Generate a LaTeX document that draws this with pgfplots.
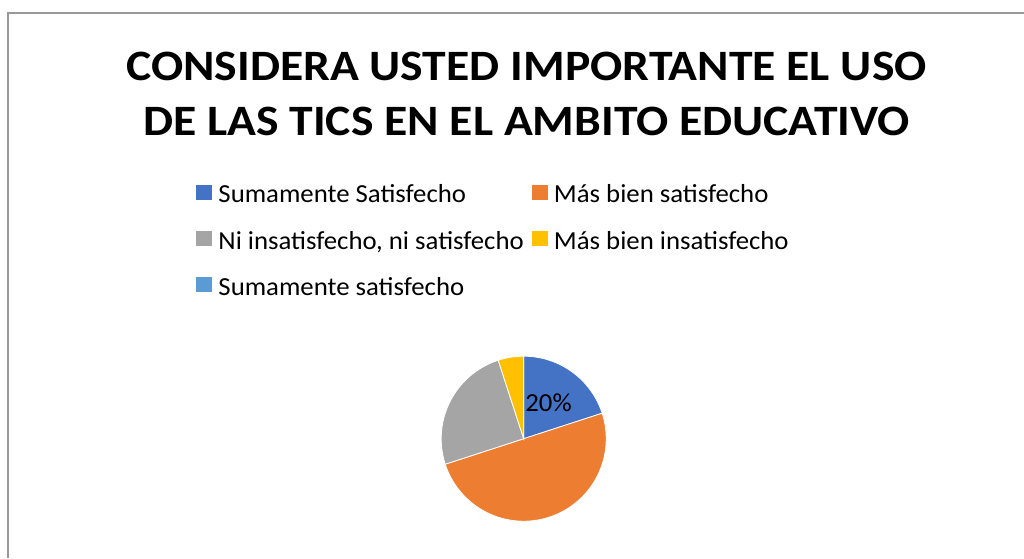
\documentclass[border=0pt]{standalone}
\usepackage{pgfplots}
\usepackage{pgfplotstable}
\pgfplotsset{compat=1.18}
\usepackage{fontspec}
\setmainfont[FakeStretch=1.03]{Carlito}
\newfontfamily\titlefont[FakeStretch=1.10]{Carlito}
\definecolor{c1}{HTML}{4472C4}
\definecolor{c2}{HTML}{ED7D31}
\definecolor{c3}{HTML}{A5A5A5}
\definecolor{c4}{HTML}{FFC000}
\definecolor{c5}{HTML}{5B9BD5}
\definecolor{frame}{HTML}{999999}
\pgfplotstableread{
idx value
0 20
1 50
2 25
3 5
4 0
}\piedata
\begin{document}%
\begin{tikzpicture}
\pgfplotstablegetelem{0}{value}\of\piedata\pgfmathsetmacro{\vA}{\pgfplotsretval}
\pgfplotstablegetelem{1}{value}\of\piedata\pgfmathsetmacro{\vB}{\pgfplotsretval}
\pgfplotstablegetelem{2}{value}\of\piedata\pgfmathsetmacro{\vC}{\pgfplotsretval}
\pgfplotstablegetelem{3}{value}\of\piedata\pgfmathsetmacro{\vD}{\pgfplotsretval}
\pgfplotstablegetelem{4}{value}\of\piedata\pgfmathsetmacro{\vE}{\pgfplotsretval}
\pgfmathsetmacro{\tot}{\vA+\vB+\vC+\vD+\vE}
\pgfmathsetmacro{\aA}{\vA/\tot*360}
\pgfmathsetmacro{\aB}{\aA+\vB/\tot*360}
\pgfmathsetmacro{\aC}{\aB+\vC/\tot*360}
\pgfmathsetmacro{\aD}{\aC+\vD/\tot*360}
\def\cx{523.7}\def\cy{438.7}\def\R{82.5}
\begin{axis}[
  width=768pt, height=418.5pt, scale only axis,
  xmin=0, xmax=1024, ymin=0, ymax=558, y dir=reverse,
  hide axis, clip=false, xtick=\empty, ytick=\empty,
  legend columns=2,
  legend cell align=left,
  legend image code/.code={\fill[#1] (0pt,-3.4pt) rectangle (11.25pt,7.4pt);},
  legend style={draw=none, fill=none, at={(axis cs:196,182)}, anchor=north west,
    font=\fontsize{19.5}{23}\selectfont, row sep=15.5pt,
    /tikz/every even column/.append style={column sep=4pt},
    /tikz/every odd column/.append style={column sep=3pt},
    inner sep=0pt},
]
\addlegendimage{c1}\addlegendentry{Sumamente Satisfecho}
\addlegendimage{c2}\addlegendentry{Más bien satisfecho}
\addlegendimage{c3}\addlegendentry{Ni insatisfecho, ni satisfecho}
\addlegendimage{c4}\addlegendentry{Más bien insatisfecho}
\addlegendimage{c5}\addlegendentry{Sumamente satisfecho}
\addplot[forget plot, fill=c1, draw=white, line width=0.6pt, domain=0:\aA, samples=60]
  ({\cx+\R*sin(x)}, {\cy-\R*cos(x)}) -- (axis cs:\cx,\cy) -- cycle;
\addplot[forget plot, fill=c2, draw=white, line width=0.6pt, domain=\aA:\aB, samples=100]
  ({\cx+\R*sin(x)}, {\cy-\R*cos(x)}) -- (axis cs:\cx,\cy) -- cycle;
\addplot[forget plot, fill=c3, draw=white, line width=0.6pt, domain=\aB:\aC, samples=60]
  ({\cx+\R*sin(x)}, {\cy-\R*cos(x)}) -- (axis cs:\cx,\cy) -- cycle;
\addplot[forget plot, fill=c4, draw=white, line width=0.6pt, domain=\aC:\aD, samples=20]
  ({\cx+\R*sin(x)}, {\cy-\R*cos(x)}) -- (axis cs:\cx,\cy) -- cycle;
\node[font=\fontsize{19.5}{23}\selectfont, anchor=center] at (axis cs:548.5,403) {20\%};
\node[font=\fontsize{32.5}{40}\titlefont\bfseries, anchor=base] at (axis cs:526.5,80) {CONSIDERA USTED IMPORTANTE EL USO};
\node[font=\fontsize{32.5}{40}\titlefont\bfseries, anchor=base] at (axis cs:526.5,135) {DE LAS TICS EN EL AMBITO EDUCATIVO};
\draw[frame, line width=1.2pt] (axis cs:1024,13) -- (axis cs:8,13) -- (axis cs:8,558);
\coordinate (BL) at (axis cs:0,558);
\coordinate (TR) at (axis cs:1024,0);
\end{axis}
\pgfresetboundingbox
\path[use as bounding box] (BL) rectangle (TR);
\end{tikzpicture}%
\end{document}
